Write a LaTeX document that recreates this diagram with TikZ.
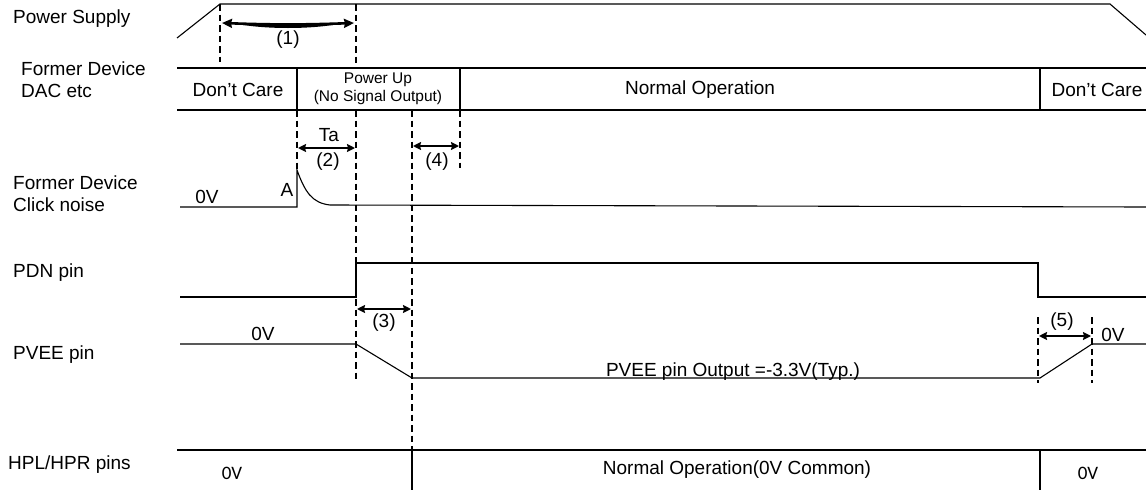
\documentclass[tikz,border=0pt]{standalone}
\usepackage{fontspec}
\setmainfont{Liberation Sans}
\newfontfamily\calibfont{Carlito}
\usepackage{tikz}
\usetikzlibrary{arrows.meta}

\begin{document}
\begin{tikzpicture}[
x=1pt, y=-1pt,
wave/.style={line width=1.1pt},
guide/.style={line width=1.8pt, dash pattern=on 6.5pt off 4pt},
dimarrow/.style={{Stealth[length=8pt,width=8pt,inset=1pt]}-{Stealth[length=8pt,width=8pt,inset=1pt]}, line width=2pt},
lbl/.style={anchor=west, inner sep=0pt, align=left, font=\fontsize{19}{22}\selectfont},
txt/.style={inner sep=0pt, font=\fontsize{19}{22}\selectfont},
smalltxt/.style={inner sep=0pt, align=center, font=\fontsize{15.5}{18}\selectfont},
zerov/.style={inner sep=0pt, font=\calibfont\fontsize{19}{22}\selectfont}
]
\useasboundingbox (0,0) rectangle (1146,490);

% row labels
\node[lbl] (ps) at (13,19) {Power Supply};
\node[lbl] (dac) at (21,80) {Former Device\\DAC etc};
\node[lbl] (click) at (13,194) {Former Device\\Click noise};
\node[lbl] (pdn) at (13,273) {PDN pin};
\node[lbl] (pvee) at (13,355) {PVEE pin};
\node[lbl] (hp) at (8,465) {HPL/HPR pins};

% power supply
\draw[wave] (177,38) -- (220,4) -- (1110,4) -- (1146,35);

% DAC states
\draw[wave] (177,68) -- (1146,68);
\draw[wave] (177,110) -- (1146,110);
\draw[wave] (297,68) -- (297,110);
\draw[wave] (460,68) -- (460,110);
\draw[wave] (1040,68) -- (1040,110);
\node[txt] (care1) at (238,90) {Don’t Care};
\node[smalltxt] (powerup) at (378,89) {Power Up\\(No Signal Output)};
\node[txt] (normal) at (700,90) {Normal Operation};
\node[txt] (care2) at (1097,90) {Don’t Care};

% click noise
\draw[wave] (180,207) -- (297,207) -- (297,170) .. controls (305,192) and (312,203) .. (330,205) -- (1146,207);
\node[txt] (clk0v) at (207,197) {0V};
\node[txt] (pointA) at (287,190) {A};

% PDN pin
\draw[wave] (180,297) -- (356,297) -- (356,263) -- (1038,263) -- (1038,297) -- (1146,297);

% PVEE pin
\draw[wave] (180,344) -- (356,344) -- (412,378) -- (1040,378) -- (1092,344) -- (1146,344);
\node[txt] (pv0v) at (263,334) {0V};
\node[txt] (pv0vr) at (1113,335) {0V};
\node[txt, anchor=base] (pvout) at (733,376) {PVEE pin Output =-3.3V(Typ.)};

% HPL/HPR pins
\draw[wave] (177,450) -- (1146,450);
\draw[wave] (412,450) -- (412,490);
\draw[wave] (1040,450) -- (1040,490);
\node[zerov] (hp0v) at (232,473) {0V};
\node[txt] (hpnormal) at (737,470) {Normal Operation(0V Common)};
\node[zerov] (hp0vr) at (1088,473) {0V};

% timing guides
\draw[guide] (220,4) -- (220,62);
\draw[guide] (356,4) -- (356,68);
\draw[guide] (356,110) -- (356,382);
\draw[guide] (297,110) -- (297,170);
\draw[guide] (412,110) -- (412,450);
\draw[guide] (460,110) -- (460,168);
\draw[guide] (1038,317) -- (1038,383);
\draw[guide] (1092,317) -- (1092,383);

% intervals
\coordinate (t1a) at (222,23);
\coordinate (t1b) at (354,23);
\coordinate (t2a) at (298,148);
\coordinate (t2b) at (355,148);
\coordinate (t3a) at (357,309);
\coordinate (t3b) at (411,309);
\coordinate (t4a) at (413,146);
\coordinate (t4b) at (459,146);
\coordinate (t5a) at (1039,336);
\coordinate (t5b) at (1091,336);
\draw[dimarrow, line width=2.6pt, {Stealth[length=10pt,width=9pt,inset=1pt]}-{Stealth[length=10pt,width=9pt,inset=1pt]}] (t1a) to[bend right=2] (t1b);
\fill (234,23.5) .. controls (266,29.5) and (310,29.5) .. (342,23.5) .. controls (310,25.5) and (266,25.5) .. cycle;
\draw[dimarrow] (t2a) -- (t2b);
\draw[dimarrow] (t3a) -- (t3b);
\draw[dimarrow] (t4a) -- (t4b);
\draw[dimarrow] (t5a) -- (t5b);
\node[txt] (n1) at (288,40) {(1)};
\node[txt] (ta) at (329,135) {Ta};
\node[txt] (n2) at (328,162) {(2)};
\node[txt] (n3) at (384,323) {(3)};
\node[txt] (n4) at (437,162) {(4)};
\node[txt] (n5) at (1062,322) {(5)};
\end{tikzpicture}
\end{document}
